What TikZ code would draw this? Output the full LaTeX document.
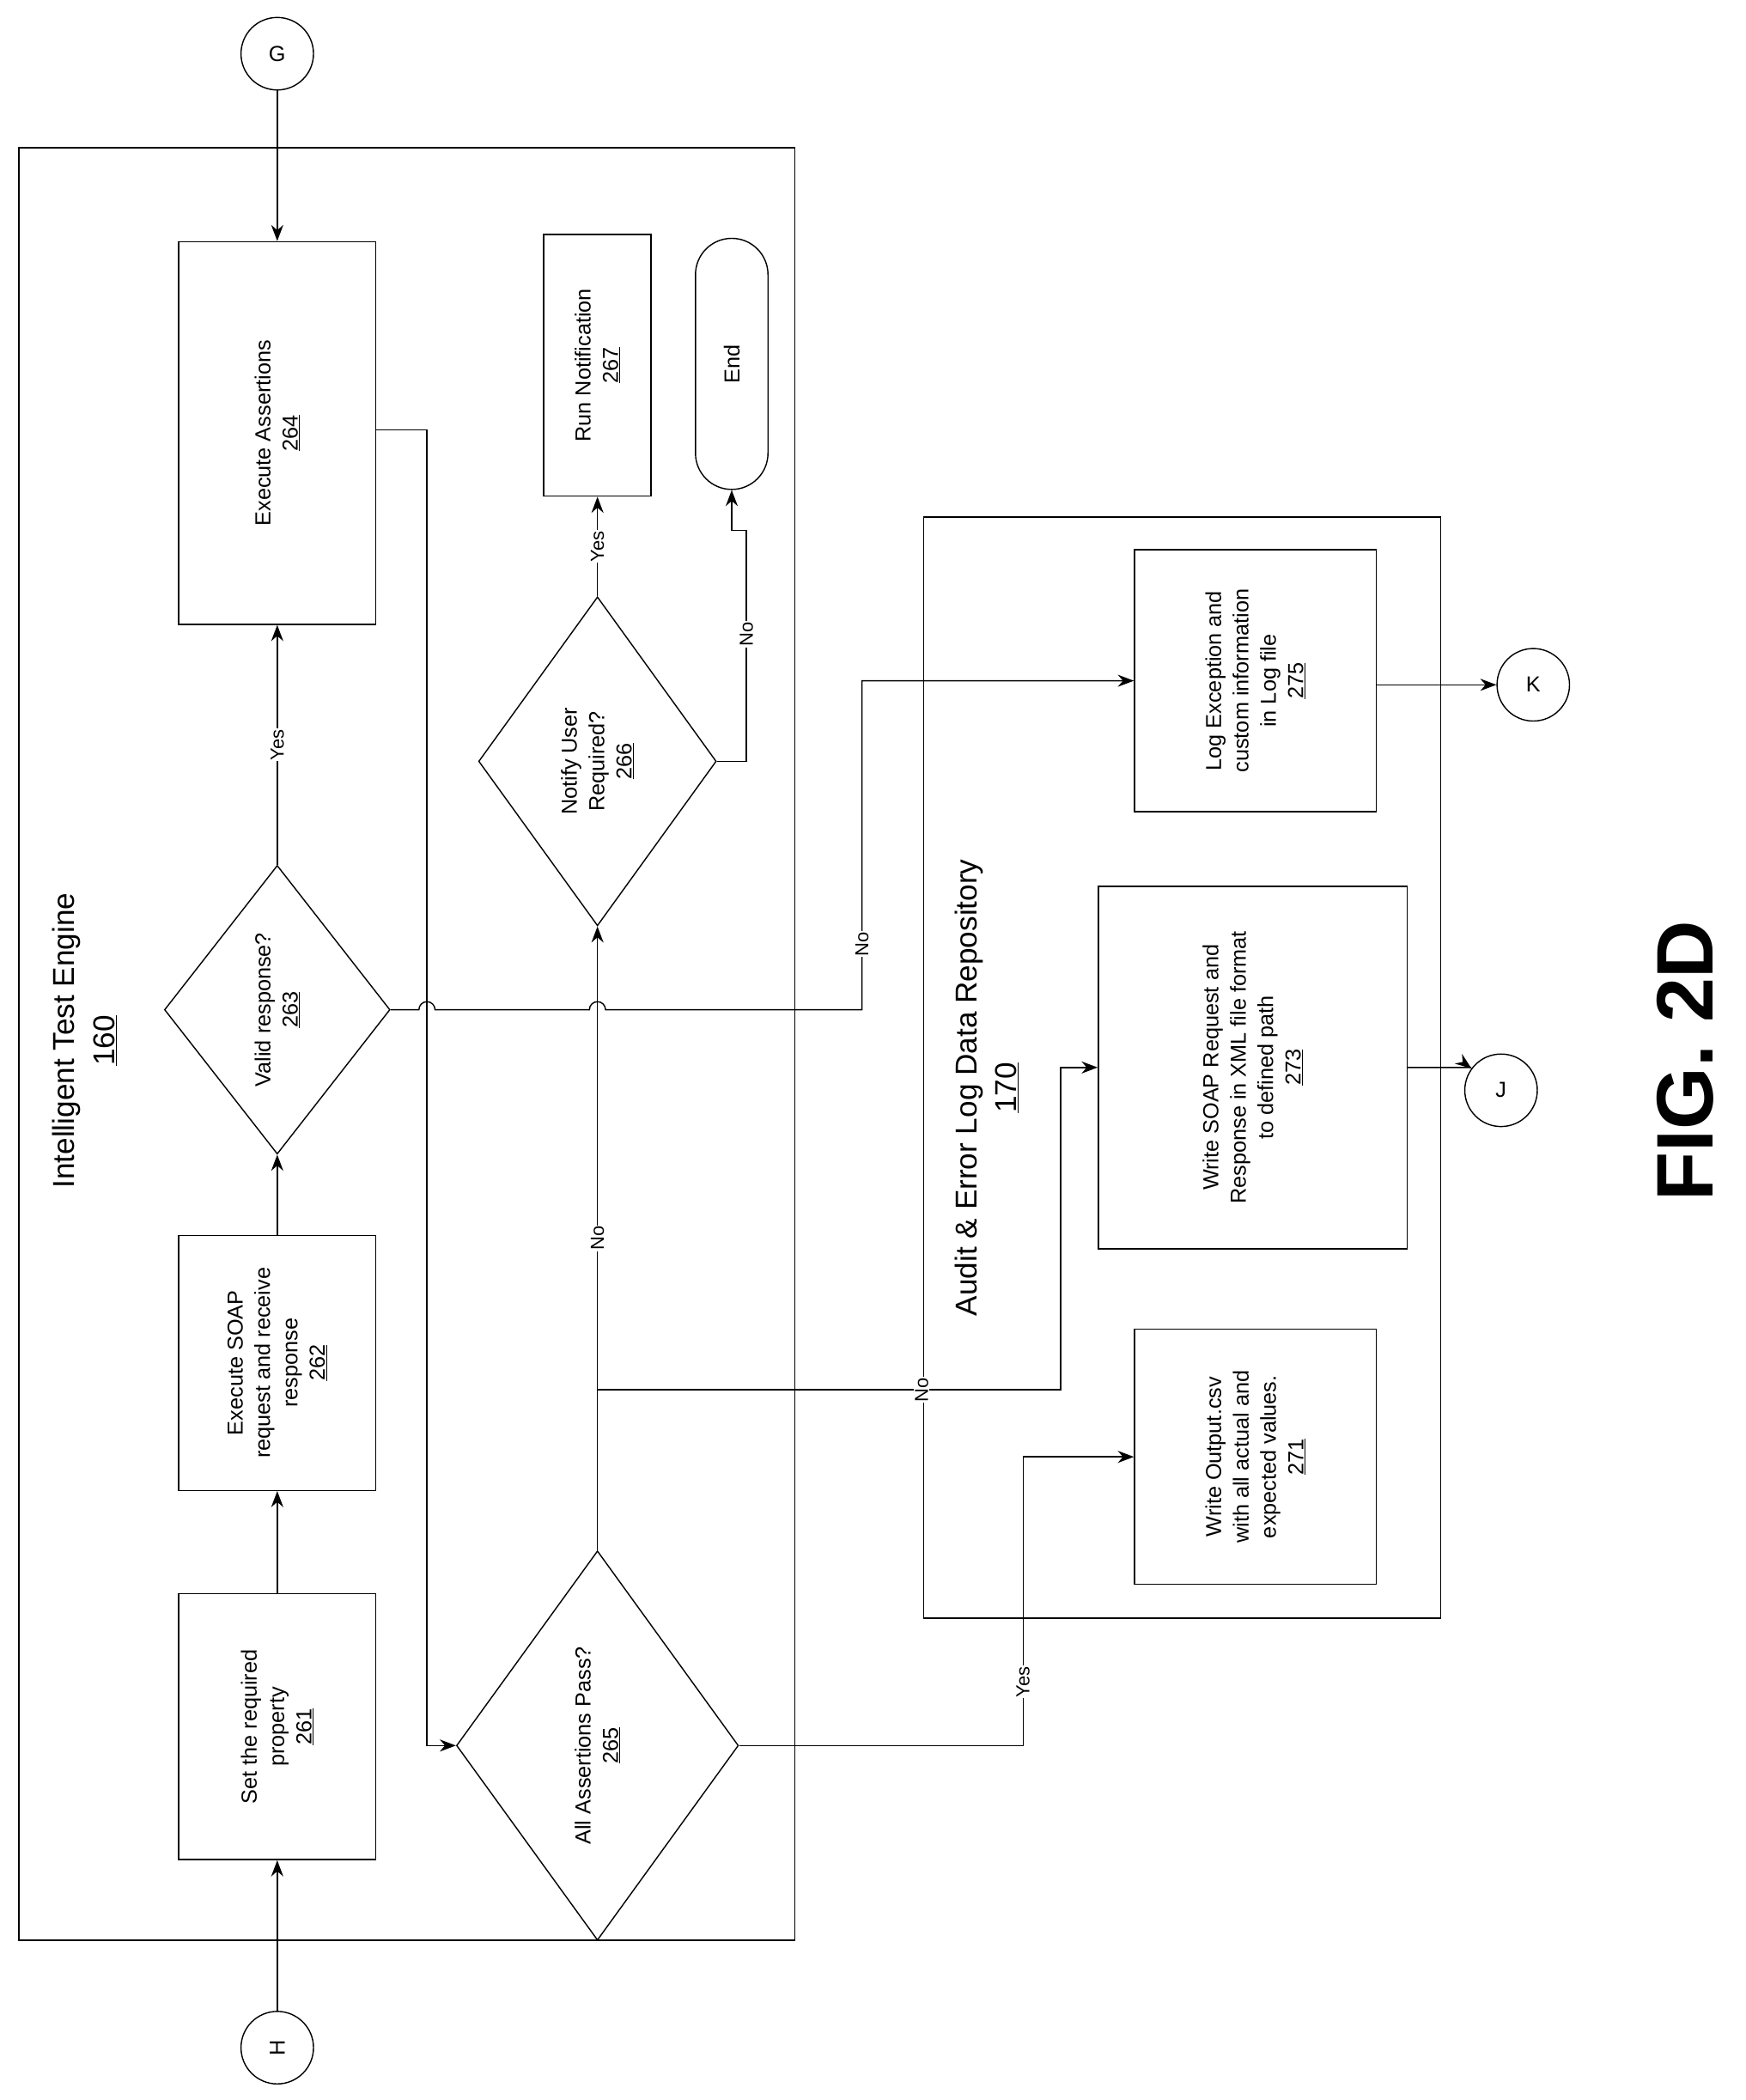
\documentclass[tikz,border=0pt]{standalone}
\usepackage{fontspec}
\setmainfont{Liberation Sans}
\usetikzlibrary{shapes.geometric,arrows.meta}
\tikzset{
  blk/.style={draw, line width=1.3pt, rotate=90, align=center, font=\fontsize{23}{29}\selectfont},
  dec/.style={draw, line width=1.3pt, diamond, rotate=90, align=center, inner sep=0pt, font=\fontsize{23}{29}\selectfont},
  con/.style={draw, line width=1.3pt, circle, minimum size=27mm, font=\fontsize{23}{29}\selectfont},
  lbl/.style={rotate=90, fill=white, inner sep=1pt, font=\fontsize{20}{24}\selectfont},
  flow/.style={line width=1.3pt, -{Stealth[length=6mm,width=4.5mm]}}
}
\begin{document}
\begin{tikzpicture}[x=0.5mm,y=-0.5mm]
\useasboundingbox (0,0) rectangle (1300,1564);
% frames
\draw[line width=1.3pt] (14,110) rectangle (592,1445);
\draw[line width=1.3pt] (688,385) rectangle (1073,1205);
\node[rotate=90, align=center, font=\fontsize{32}{42}\selectfont] (ite) at (63,775) {Intelligent Test Engine\\\underline{160}};
\node[rotate=90, align=center, font=\fontsize{32}{42}\selectfont] (aud) at (735,810) {Audit \& Error Log Data Repository\\\underline{170}};
% connectors
\node[con] (g) at (206.5,40) {G};
\node[con, rotate=90] (h) at (206.5,1525) {H};
\node[con] (k) at (1142,510) {K};
\node[con] (j) at (1118,812) {J};
% steps
\node[blk, minimum width=99mm, minimum height=73.5mm] (b261) at (206.5,1286) {Set the required\\property\\\underline{261}};
\node[blk, minimum width=95mm, minimum height=73.5mm] (b262) at (206.5,1015) {Execute SOAP\\request and receive\\response\\\underline{262}};
\node[dec, minimum width=107.5mm, minimum height=84mm] (d263) at (206.5,752) {Valid response?\\\underline{263}};
\node[blk, minimum width=142.5mm, minimum height=73.5mm] (b264) at (206.5,322.5) {Execute Assertions\\\underline{264}};
\node[dec, minimum width=145mm, minimum height=105mm] (d265) at (445,1300) {All Assertions Pass?\\\underline{265}};
\node[dec, minimum width=122.5mm, minimum height=88.5mm] (d266) at (445,567) {Notify User\\Required?\\\underline{266}};
\node[blk, minimum width=97.5mm, minimum height=40mm] (b267) at (445,272) {Run Notification\\\underline{267}};
\node[blk, rounded corners=13.5mm, minimum width=93.5mm, minimum height=27mm] (end) at (545,271) {End};
\node[blk, minimum width=95mm, minimum height=90mm] (b271) at (935,1085) {Write Output.csv\\with all actual and\\expected values.\\\underline{271}};
\node[blk, minimum width=135mm, minimum height=115mm] (b273) at (933,795) {Write SOAP Request and\\Response in XML file format\\to defined path\\\underline{273}};
\node[blk, minimum width=97.5mm, minimum height=90mm] (b275) at (935,507) {Log Exception and\\custom information\\in Log file\\\underline{275}};
\node[font=\fontsize{85}{95}\selectfont\bfseries, rotate=90] (fig) at (1255,790) {FIG. 2D};
% flow
\draw[flow] (h) -- (b261);
\draw[flow] (b261) -- (b262);
\draw[flow] (b262) -- (d263.west);
\draw[flow] (d263.east) -- node[lbl]{Yes} (b264);
\draw[flow] (g) -- (b264);
\draw[flow] (b264.south |- 0,320) -- (318,320) -- (318,1300) -- (d265.north);
\draw[flow] (d263.south) -- (312,752) arc[start angle=180, end angle=360, radius=6]
  -- (439,752) arc[start angle=180, end angle=360, radius=6]
  -- (642,752) -- node[lbl, pos=0.2]{No} (642,507) -- (b275.north);
\draw[flow] (d265.east) -- node[lbl]{No} (d266.west);
\draw[flow] (445,1035) -- node[lbl, pos=0.7]{No} (790,1035) -- (790,795) -- (b273.north);
\draw[flow] (d265.south) -- (762,1300) -- node[lbl, pos=0.22]{Yes} (762,1085) -- (b271.north);
\draw[flow] (d266.east) -- node[lbl]{Yes} (b267);
\draw[flow] (d266.south) -- (556,567) -- node[lbl, pos=0.55]{No} (556,395) -- (545,395) -- (end);
\draw[flow] (b275.south |- 0,510) -- (k);
\draw[flow] (b273.south |- 0,795) -- (1095,795) -- (j);
\end{tikzpicture}
\end{document}
